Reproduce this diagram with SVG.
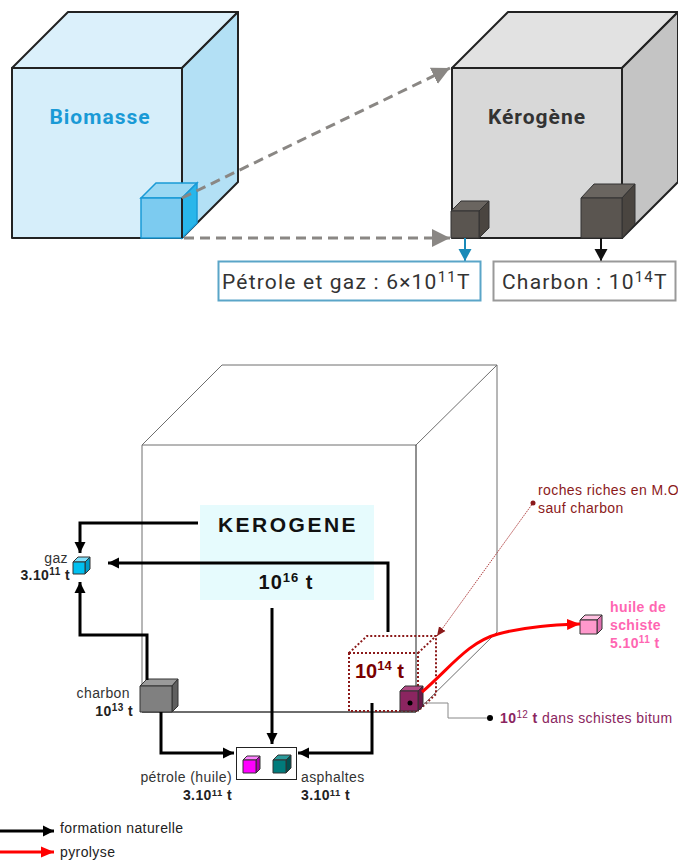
<svg xmlns="http://www.w3.org/2000/svg" width="678" height="861" viewBox="0 0 678 861">
<style>
.ts{font-family:Roboto,"Noto Sans","DejaVu Sans",sans-serif}
.as{font-family:"Liberation Sans",Arial,sans-serif}
.sm{font-size:14px;letter-spacing:0.4px}
.blk{stroke:#000;stroke-width:3;fill:none}
.cubeS{stroke:#222;stroke-width:2;stroke-linejoin:round}
.thin{stroke:#333;stroke-width:1;stroke-linejoin:round}
.grey{stroke:#6e6e6e;stroke-width:1;fill:none}
</style>
<defs>
<marker id="ga" markerWidth="20" markerHeight="20" refX="18" refY="10" orient="auto" markerUnits="userSpaceOnUse"><path d="M0,1 L18,10 L0,19 Z" fill="#8a8784"/></marker>
<marker id="ba" markerWidth="12" markerHeight="12" refX="11" refY="6" orient="auto" markerUnits="userSpaceOnUse"><path d="M0,0.5 L11,6 L0,11.5 Z" fill="#000"/></marker>
<marker id="bl" markerWidth="14" markerHeight="14" refX="12" refY="7" orient="auto" markerUnits="userSpaceOnUse"><path d="M0,0.5 L12,7 L0,13.5 Z" fill="#1a8ab8"/></marker>
<marker id="bk" markerWidth="14" markerHeight="14" refX="12" refY="7" orient="auto" markerUnits="userSpaceOnUse"><path d="M0,0.5 L12,7 L0,13.5 Z" fill="#111"/></marker>
<marker id="ra" markerWidth="14" markerHeight="12" refX="13" refY="6" orient="auto" markerUnits="userSpaceOnUse"><path d="M0,0.5 L13,6 L0,11.5 Z" fill="#ff0000"/></marker>
<marker id="da" markerWidth="10" markerHeight="10" refX="9" refY="5" orient="auto" markerUnits="userSpaceOnUse"><path d="M0,1 L9,5 L0,9 Z" fill="#8b1a1a"/></marker>
</defs>

<!-- TOP: Biomasse cube -->
<g id="biomasse">
<polygon points="12,68 68,12 238,12 182,68" fill="#dbf0fb" class="cubeS"/>
<polygon points="182,68 238,12 238,182 182,238" fill="#b3e0f5" class="cubeS"/>
<rect x="12" y="68" width="170" height="170" fill="#d6eefa" class="cubeS"/>
<text x="100" y="124" text-anchor="middle" class="ts" font-size="21" font-weight="bold" letter-spacing="1" fill="#1a9ad6">Biomasse</text>
</g>
<g id="biomasse-part">
<polygon points="141,198 156,183 197,183 182,198" fill="#9ad8f3" stroke="#1a9ad6" stroke-width="1.5"/>
<polygon points="182,198 197,183 197,223 182,238" fill="#29b6ea" stroke="#1a9ad6" stroke-width="1.5"/>
<rect x="141" y="198" width="41" height="40" fill="#7ccbf0" stroke="#1a9ad6" stroke-width="1.5"/>
<line x1="182" y1="198" x2="182" y2="238" stroke="#222" stroke-width="2"/>
</g>

<!-- TOP: Kerogene cube -->
<g id="kerogene-top">
<polygon points="452,68 508,12 678,12 622,68" fill="#e2e2e2" class="cubeS"/>
<polygon points="622,68 678,12 678,182 622,238" fill="#c4c4c4" class="cubeS"/>
<rect x="452" y="68" width="170" height="170" fill="#d8d8d8" class="cubeS"/>
<text x="537" y="124" text-anchor="middle" class="ts" font-size="21" font-weight="bold" letter-spacing="1" fill="#333">Kérogène</text>
</g>
<g id="petrole-gaz-cube">
<polygon points="451,211 461,201 489,201 479,211" fill="#6a6560" class="thin"/>
<polygon points="479,211 489,201 489,228 479,238" fill="#4a4540" class="thin"/>
<rect x="451" y="211" width="28" height="27" fill="#5a5550" class="thin"/>
</g>
<g id="charbon-cube">
<polygon points="581,198 594,184 635,184 622,198" fill="#6a6560" class="thin"/>
<polygon points="622,198 635,184 635,224 622,238" fill="#4a4540" class="thin"/>
<rect x="581" y="198" width="41" height="40" fill="#5a5550" class="thin"/>
</g>

<g id="top-connectors">
<line x1="182" y1="198" x2="450" y2="68" stroke="#8a8784" stroke-width="3" stroke-dasharray="10,6" marker-end="url(#ga)"/>
<line x1="184" y1="238" x2="450" y2="238" stroke="#8a8784" stroke-width="3" stroke-dasharray="10,6" marker-end="url(#ga)"/>
<line x1="465" y1="238" x2="465" y2="261" stroke="#1a8ab8" stroke-width="2" marker-end="url(#bl)"/>
<line x1="601" y1="238" x2="601" y2="261" stroke="#111" stroke-width="2" marker-end="url(#bk)"/>
</g>

<g id="box-petrole-gaz">
<rect x="218.5" y="261.5" width="262" height="39" fill="#fff" stroke="#5aa5c8" stroke-width="2"/>
<text x="222" y="289" class="ts" font-size="21" letter-spacing="1.2" fill="#333">Pétrole et gaz : 6×10<tspan font-size="15" dy="-7">11</tspan><tspan dy="7">T</tspan></text>
</g>
<g id="box-charbon">
<rect x="493.5" y="261.5" width="182" height="39" fill="#fff" stroke="#999" stroke-width="2"/>
<text x="502" y="289" class="ts" font-size="21" letter-spacing="1.2" fill="#333">Charbon : 10<tspan font-size="15" dy="-7">14</tspan><tspan dy="7">T</tspan></text>
</g>

<!-- BOTTOM -->
<g id="kerogene-cube">
<polyline points="142,712 142,445 222,365 497,365 497,632 416,712 142,712" class="grey"/>
<line x1="142" y1="445" x2="416" y2="445" class="grey"/>
<line x1="416" y1="445" x2="497" y2="365" class="grey"/>
<line x1="416" y1="445" x2="416" y2="712" stroke="#222" stroke-width="1"/>
<line x1="142" y1="712" x2="416" y2="712" stroke="#222" stroke-width="1"/>
</g>
<g id="kerogene">
<rect x="200" y="505" width="174" height="95" fill="#e6fbfd"/>
<text x="288" y="532" text-anchor="middle" class="as" font-size="21" font-weight="bold" fill="#111" letter-spacing="2.5">KEROGENE</text>
<text x="286" y="589" text-anchor="middle" class="as" font-size="20" font-weight="bold" letter-spacing="1" fill="#111">10<tspan font-size="13" dy="-7">16</tspan><tspan dy="7"> t</tspan></text>
</g>

<g id="gaz">
<polygon points="73,562 78,557 90,557 85,562" fill="#7ee0fb" class="thin"/>
<polygon points="85,562 90,557 90,569 85,574" fill="#009cc8" class="thin"/>
<rect x="73" y="562" width="12" height="12" fill="#00c0f0" class="thin"/>
<text x="68" y="563" text-anchor="end" class="as sm" fill="#333">gaz</text>
<text x="70" y="580" text-anchor="end" class="as sm" font-weight="bold" fill="#222">3.10<tspan font-size="10" dy="-5">11</tspan><tspan dy="5"> t</tspan></text>
</g>

<g id="charbon">
<polygon points="140,686 147,679 178,679 172,686" fill="#9a9a9a" class="thin"/>
<polygon points="172,686 178,679 178,706 172,712" fill="#606060" class="thin"/>
<rect x="140" y="686" width="32" height="26" fill="#808080" class="thin"/>
<text x="130" y="698" text-anchor="end" class="as sm" fill="#333">charbon</text>
<text x="133" y="716" text-anchor="end" class="as sm" font-weight="bold" fill="#222">10<tspan font-size="10" dy="-5">13</tspan><tspan dy="5"> t</tspan></text>
</g>

<g id="petrole-asphaltes">
<rect x="236.5" y="747.5" width="60" height="32" fill="#fff" stroke="#222" stroke-width="1"/>
<polygon points="243,760 247,756 260,756 256,760" fill="#ff80ff" class="thin"/>
<polygon points="256,760 260,756 260,769 256,773" fill="#b000b0" class="thin"/>
<rect x="243" y="760" width="13" height="13" fill="#ff00ff" class="thin"/>
<polygon points="273,760 278,755 291,755 286,760" fill="#2a9a9a" class="thin"/>
<polygon points="286,760 291,755 291,768 286,773" fill="#005050" class="thin"/>
<rect x="273" y="760" width="13" height="13" fill="#007b7b" class="thin"/>
<text x="232" y="782" text-anchor="end" class="as sm" fill="#333">pétrole (huile)</text>
<text x="232" y="800" text-anchor="end" class="as sm" font-weight="bold" fill="#222">3.10<tspan font-size="9.5" dy="-4">11</tspan><tspan dy="4"> t</tspan></text>
<text x="301" y="782" class="as sm" fill="#333">asphaltes</text>
<text x="301" y="800" class="as sm" font-weight="bold" fill="#222">3.10<tspan font-size="9.5" dy="-4">11</tspan><tspan dy="4"> t</tspan></text>
</g>

<g id="roches-riches">
<g fill="none" stroke="#8b1a1a" stroke-width="2" stroke-dasharray="2,2">
<rect x="349" y="653" width="69" height="58"/>
<polyline points="349,653 367,636 436,636 436,694 418,711"/>
<line x1="418" y1="653" x2="436" y2="636"/>
</g>
<text x="355" y="678" class="as" font-size="20" font-weight="bold" fill="#7a0000">10<tspan font-size="13" dy="-8">14</tspan><tspan dy="8"> t</tspan></text>
<text x="538" y="495" class="as sm" fill="#8b1a1a">roches riches en M.O</text>
<text x="538" y="513" class="as sm" fill="#8b1a1a">sauf charbon</text>
</g>

<g id="schistes-bitumineux">
<polygon points="400,691 405,686 423,686 418,691" fill="#b04a84" class="thin"/>
<polygon points="418,691 423,686 423,706 418,711" fill="#6a1848" class="thin"/>
<rect x="400" y="691" width="18" height="20" fill="#8b2560" class="thin"/>
<circle cx="410" cy="703" r="2.5" fill="#000"/>
<text x="500" y="723" class="as sm" fill="#8b2560"><tspan font-weight="bold">10</tspan><tspan font-size="10" dy="-5">12</tspan><tspan dy="5" font-weight="bold"> t</tspan> dans schistes bitum</text>
</g>

<g id="huile-de-schiste">
<polygon points="580,620 585,615 602,615 597,620" fill="#ffc0e0" class="thin"/>
<polygon points="597,620 602,615 602,629 597,634" fill="#e070b0" class="thin"/>
<rect x="580" y="620" width="17" height="14" fill="#ff99cc" class="thin"/>
<text x="610" y="612" class="as sm" font-weight="bold" fill="#ff66b2">huile de</text>
<text x="610" y="630" class="as sm" font-weight="bold" fill="#ff66b2">schiste</text>
<text x="610" y="648" class="as sm" font-weight="bold" fill="#ff66b2">5.10<tspan font-size="10" dy="-5">11</tspan><tspan dy="5"> t</tspan></text>
</g>

<g id="connectors">
<polyline points="198,523 80,523 80,553" class="blk" marker-end="url(#ba)"/>
<polyline points="388,632 388,563 108,563" class="blk" marker-end="url(#ba)"/>
<polyline points="147,680 147,635 80,635 80,582" class="blk" marker-end="url(#ba)"/>
<line x1="272" y1="608" x2="272" y2="744" class="blk" marker-end="url(#ba)"/>
<polyline points="161,712 161,753 234,753" class="blk" marker-end="url(#ba)"/>
<polyline points="372,703 372,753 298,753" class="blk" marker-end="url(#ba)"/>
<path d="M422,692 C450,668 468,642 498,634 C528,626 555,625 580,624" fill="none" stroke="#ff0000" stroke-width="3" marker-end="url(#ra)"/>
<line x1="533" y1="503" x2="437" y2="636" stroke="#b04040" stroke-width="1" stroke-dasharray="1.5,1" marker-end="url(#da)"/>
<circle cx="533" cy="503" r="2.5" fill="#8b1a1a"/>
<polyline points="424,703 448,703 448,718 490,718" fill="none" stroke="#888" stroke-width="1"/>
<circle cx="490" cy="718" r="3" fill="#000"/>
</g>

<g id="legend">
<line x1="0" y1="831" x2="54" y2="831" class="blk" marker-end="url(#ba)"/>
<text x="60" y="833" class="as sm" fill="#222">formation naturelle</text>
<line x1="0" y1="852" x2="54" y2="852" stroke="#ff0000" stroke-width="3" marker-end="url(#ra)"/>
<text x="60" y="857" class="as sm" fill="#222">pyrolyse</text>
</g>
</svg>
